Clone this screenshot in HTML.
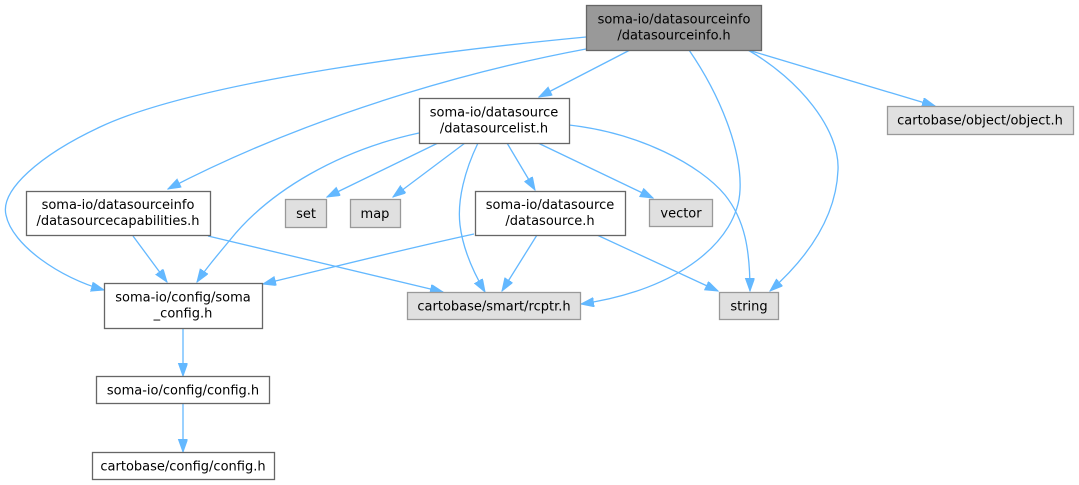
<!DOCTYPE html>
<html><head><meta charset="utf-8"><style>
html,body{margin:0;padding:0;background:#fff;}
svg{display:block;}
text{font-family:"DejaVu Sans","Liberation Sans",sans-serif;font-size:13px;fill:#000;text-anchor:middle;}
.e{fill:none;stroke:#63b8ff;stroke-width:1.3;marker-end:url(#a);}
.n{fill:#fff;stroke:#666;stroke-width:1.3;}
.x{fill:#e0e0e0;stroke:#999;stroke-width:1.3;}
</style></head><body>
<svg width="1079" height="485" viewBox="0 0 1079 485" xmlns="http://www.w3.org/2000/svg">
<defs>
<marker id="a" markerWidth="14" markerHeight="10" refX="13" refY="4.65" orient="auto" markerUnits="userSpaceOnUse">
<path d="M0,0 L13,4.65 L0,9.3 z" fill="#63b8ff" stroke="#63b8ff" stroke-width="1"/>
</marker>
</defs>

<!-- edges -->
<path class="e" d="M630,50 L539,97"/>
<path class="e" d="M586,49 C500,65 330,105 168,189"/>
<path class="e" d="M586,37 C450,50 200,80 100,127 C40,155 0,190 6,215 C12,245 60,278 104,290"/>
<path class="e" d="M689,50 C720,95 742,150 740,190 C738,240 680,290 581,304"/>
<path class="e" d="M748,50 C800,80 840,130 838,170 C836,220 805,260 770,291"/>
<path class="e" d="M748,50 L935,106"/>
<path class="e" d="M419,133 C340,150 270,190 230,240 C215,258 205,270 197,282"/>
<path class="e" d="M438,143 L327,197"/>
<path class="e" d="M465,143 L393,197"/>
<path class="e" d="M478,143 C465,170 457,200 460,225 C463,250 475,275 485,292"/>
<path class="e" d="M507,143 L535,190"/>
<path class="e" d="M538,143 L653,198"/>
<path class="e" d="M569,125 C640,133 700,165 725,195 C745,220 750,250 750,291"/>
<path class="e" d="M133,236 L167,282"/>
<path class="e" d="M208,236 L443,292"/>
<path class="e" d="M474,234 C400,250 330,268 263,284"/>
<path class="e" d="M537,235 L502,291"/>
<path class="e" d="M597,235 L718,291"/>
<path class="e" d="M183,328 L183,376"/>
<path class="e" d="M183,403 L183,452"/>

<!-- nodes -->
<rect x="586.5" y="5.5" width="175" height="45" fill="#999" stroke="#666" stroke-width="1.3"/>
<text x="674" y="23.5">soma-io/datasourceinfo</text>
<text x="674" y="39.5">/datasourceinfo.h</text>

<rect class="n" x="419.5" y="98.5" width="150" height="45"/>
<text x="494" y="116.5">soma-io/datasource</text>
<text x="494" y="132.5">/datasourcelist.h</text>

<rect class="n" x="26.5" y="191.5" width="184" height="44"/>
<text x="118" y="209">soma-io/datasourceinfo</text>
<text x="118" y="225">/datasourcecapabilities.h</text>

<rect class="x" x="285.5" y="199.5" width="41" height="28"/>
<text x="306" y="218">set</text>

<rect class="x" x="350.5" y="199.5" width="50" height="28"/>
<text x="375" y="218">map</text>

<rect class="n" x="475.5" y="191.5" width="150" height="44"/>
<text x="550" y="209">soma-io/datasource</text>
<text x="550" y="225">/datasource.h</text>

<rect class="x" x="649.5" y="199.5" width="63" height="27"/>
<text x="681" y="217.5">vector</text>

<rect class="n" x="104.5" y="283.5" width="158" height="45"/>
<text x="183" y="301.5">soma-io/config/soma</text>
<text x="183" y="317.5">_config.h</text>

<rect class="x" x="407.5" y="292.5" width="173" height="27"/>
<text x="494" y="310.5">cartobase/smart/rcptr.h</text>

<rect class="x" x="719.5" y="292.5" width="59" height="27"/>
<text x="749" y="310.5">string</text>

<rect class="x" x="887.5" y="106.5" width="186" height="28"/>
<text x="980" y="124.5">cartobase/object/object.h</text>

<rect class="n" x="96.5" y="376.5" width="173" height="27"/>
<text x="183" y="394.5">soma-io/config/config.h</text>

<rect class="n" x="92.5" y="452.5" width="182" height="27"/>
<text x="183" y="470.5">cartobase/config/config.h</text>
</svg>
</body></html>
